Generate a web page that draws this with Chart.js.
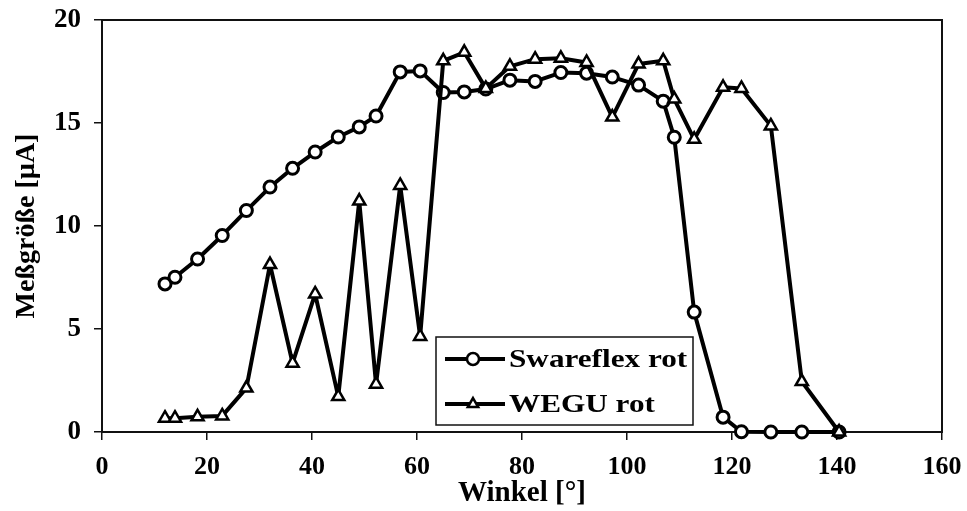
<!DOCTYPE html>
<html>
<head>
<meta charset="utf-8">
<script src="https://cdn.jsdelivr.net/npm/chart.js@4.4.0/dist/chart.umd.min.js"></script>
<style>
  body { margin: 0; background: #fff; }
  canvas { display: block; }
</style>
</head>
<body>
<canvas id="chart" width="967" height="511"></canvas>
<script>
// angle values (same for both series)
const angles = [12.0, 13.9, 18.2, 22.9, 27.5, 32.0, 36.3, 40.6, 45.0, 49.0, 52.2, 56.8, 60.6, 65.0, 69.0,
                73.1, 77.7, 82.5, 87.4, 92.3, 97.2, 102.2, 106.9, 109.0, 112.8, 118.3, 121.8, 127.4, 133.3, 140.4];
const swareflex = [7.19, 7.51, 8.40, 9.54, 10.75, 11.89, 12.80, 13.59, 14.32, 14.81, 15.34, 17.48, 17.53, 16.48, 16.51,
                   16.65, 17.08, 17.02, 17.45, 17.42, 17.23, 16.84, 16.06, 14.31, 5.82, 0.72, 0.01, 0, 0, 0];
const wegu = [0.67, 0.67, 0.74, 0.78, 2.13, 8.13, 3.34, 6.70, 1.72, 11.21, 2.32, 11.97, 4.64, 18.02, 18.43,
              16.68, 17.75, 18.10, 18.14, 17.94, 15.29, 17.86, 18.02, 16.16, 14.21, 16.73, 16.68, 14.86, 2.45, 0];
const xTicks = [0, 20, 40, 60, 80, 100, 120, 140, 160];
const yTicks = [0, 5, 10, 15, 20];
const seriesNames = ['Swareflex rot', 'WEGU rot'];

const FONT = "'Liberation Serif', 'Times New Roman', serif";

const toPoints = ys => angles.map((x, i) => ({ x: x, y: ys[i] }));

// box around the plot area
const frame = {
  id: 'frame',
  beforeDatasetsDraw(chart) {
    const a = chart.chartArea, ctx = chart.ctx;
    ctx.save();
    ctx.strokeStyle = '#111';
    ctx.lineWidth = 2;
    ctx.strokeRect(a.left, a.top, a.right - a.left, a.bottom - a.top);
    ctx.restore();
  }
};

// legend box inside the plot (text a bit wide, like the scan)
const boxLegend = {
  id: 'boxLegend',
  afterDraw(chart) {
    const ctx = chart.ctx;
    const x = 436, y = 337, w = 257, h = 88;
    ctx.save();
    ctx.fillStyle = '#fff';
    ctx.fillRect(x, y, w, h);
    ctx.strokeStyle = '#111';
    ctx.lineWidth = 1.5;
    ctx.strokeRect(x, y, w, h);
    chart.data.datasets.forEach((ds, i) => {
      const cy = y + 22 + i * 45;
      ctx.strokeStyle = '#000';
      ctx.lineWidth = 4;
      ctx.beginPath();
      ctx.moveTo(x + 9, cy);
      ctx.lineTo(x + 69, cy);
      ctx.stroke();
      ctx.fillStyle = '#fff';
      ctx.lineWidth = 2.5;
      Chart.helpers.drawPoint(ctx, { pointStyle: ds.pointStyle, radius: 6, rotation: 0, borderWidth: 2.5 }, x + 37, cy);
      ctx.save();
      ctx.translate(x + 73, cy + 1);
      ctx.scale(1.2, 1);
      ctx.fillStyle = '#000';
      ctx.font = 'bold 26px ' + FONT;
      ctx.textBaseline = 'middle';
      ctx.fillText(ds.label, 0, 0);
      ctx.restore();
    });
    ctx.restore();
  }
};

new Chart(document.getElementById('chart'), {
  type: 'line',
  data: {
    datasets: [
      {
        label: seriesNames[0],
        data: toPoints(swareflex),
        borderColor: '#000',
        borderWidth: 4,
        borderJoinStyle: 'round',
        pointStyle: 'circle',
        pointRadius: 6,
        pointBorderWidth: 3,
        pointBackgroundColor: '#fff',
        pointBorderColor: '#000',
        clip: false,
        order: 1
      },
      {
        label: seriesNames[1],
        data: toPoints(wegu),
        borderColor: '#000',
        borderWidth: 4,
        borderJoinStyle: 'round',
        pointStyle: 'triangle',
        pointRadius: 7,
        pointBorderWidth: 2.5,
        pointBackgroundColor: '#fff',
        pointBorderColor: '#000',
        clip: false,
        order: 0
      }
    ]
  },
  options: {
    responsive: false,
    animation: false,
    devicePixelRatio: 1,
    layout: { padding: { top: 20, right: 25, left: 0, bottom: 0 } },
    plugins: { legend: { display: false }, tooltip: { enabled: false } },
    scales: {
      x: {
        type: 'linear',
        min: 0, max: 160,
        afterBuildTicks: s => { s.ticks = xTicks.map(v => ({ value: v })); },
        afterFit: s => { s.height = 79; s.paddingLeft = 0; s.paddingRight = 0; },
        grid: { drawOnChartArea: false, tickLength: 8, color: '#111', lineWidth: 1.5 },
        border: { color: '#111', width: 2 },
        ticks: { color: '#000', font: { family: FONT, size: 26, weight: 'bold' }, padding: 12, maxRotation: 0 },
        title: { display: true, text: 'Winkel [°]', color: '#000', font: { family: FONT, size: 29, weight: 'bold' }, padding: { top: -14, bottom: 0 } }
      },
      y: {
        min: 0, max: 20,
        afterBuildTicks: s => { s.ticks = yTicks.map(v => ({ value: v })); },
        afterFit: s => { s.width = 102; s.paddingTop = 0; s.paddingBottom = 0; },
        grid: { drawOnChartArea: false, tickLength: 8, color: '#111', lineWidth: 1.5 },
        border: { color: '#111', width: 2 },
        ticks: { color: '#000', font: { family: FONT, size: 27, weight: 'bold' }, padding: 13 },
        title: { display: true, text: 'Meßgröße [µA]', color: '#000', font: { family: FONT, size: 28, weight: 'bold' }, padding: { top: 10, bottom: 0 } }
      }
    }
  },
  plugins: [frame, boxLegend]
});
</script>
</body>
</html>
